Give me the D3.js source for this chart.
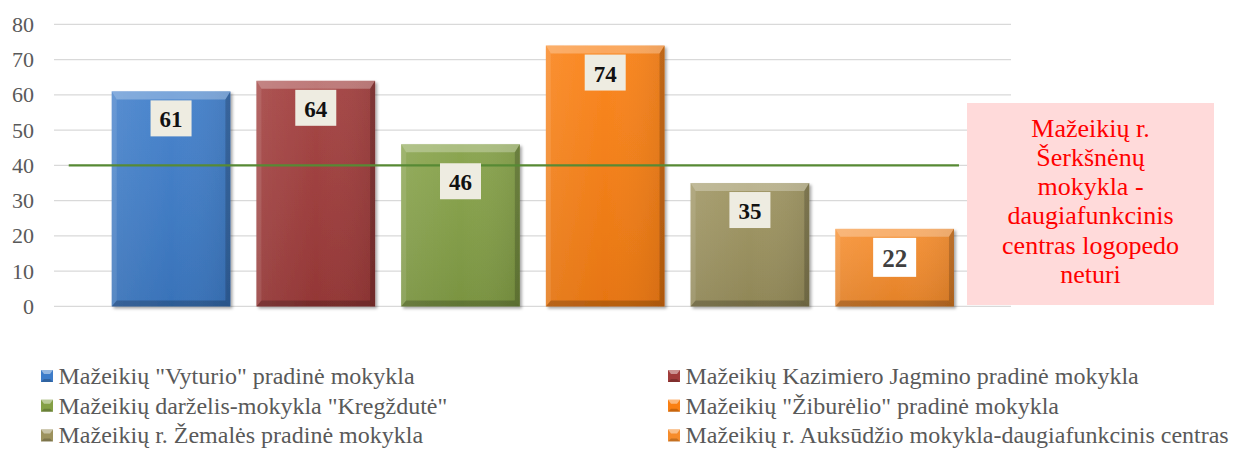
<!DOCTYPE html>
<html>
<head>
<meta charset="utf-8">
<script src="https://cdn.jsdelivr.net/npm/d3@7"></script>
</head>
<body style="margin:0;background:#fff">
<div id="chart"></div>
<script>
// data
const schools = [
  'Mažeikių "Vyturio" pradinė mokykla',
  "Mažeikių Kazimiero Jagmino pradinė mokykla",
  'Mažeikių darželis-mokykla "Kregždutė"',
  'Mažeikių "Žiburėlio" pradinė mokykla',
  "Mažeikių r. Žemalės pradinė mokykla",
  "Mažeikių r. Auksūdžio mokykla-daugiafunkcinis centras"
];
const values = [61, 64, 46, 74, 35, 22];
const refValue = 40;
const yTicks = [0, 10, 20, 30, 40, 50, 60, 70, 80];
const noteLines = ["Mažeikių r.", "Šerkšnėnų", "mokykla -", "daugiafunkcinis", "centras logopedo", "neturi"];

// styles
const colors = ["#3d7cc9", "#a03b3a", "#84a046", "#fa7f12", "#9c925e", "#f68c2b"];
const labelFill = ["#eeece1", "#eeece1", "#eeece1", "#eeece1", "#eeece1", "#ffffff"];
const labelText = ["#111", "#111", "#111", "#111", "#111", "#404040"];
const labelNudge = [0, 0, 10, 0, 0, 0];
const serif = '"Liberation Serif"';

const W = 1237, H = 454;
const svg = d3.select("#chart").append("svg")
  .attr("width", W).attr("height", H)
  .style("display", "block");

const defs = svg.append("defs");
defs.append("filter").attr("id", "shadow")
  .attr("x", "-10%").attr("y", "-10%").attr("width", "130%").attr("height", "130%")
  .append("feDropShadow")
  .attr("dx", 2).attr("dy", 2).attr("stdDeviation", 1.6)
  .attr("flood-color", "#000").attr("flood-opacity", 0.35);

// horizontal shading across each bar
const hg = defs.append("linearGradient").attr("id", "hshade")
  .attr("x1", 0).attr("x2", 1).attr("y1", 0).attr("y2", 0);
hg.append("stop").attr("offset", "0%").attr("stop-color", "#fff").attr("stop-opacity", 0.08);
hg.append("stop").attr("offset", "50%").attr("stop-color", "#fff").attr("stop-opacity", 0);
hg.append("stop").attr("offset", "100%").attr("stop-color", "#000").attr("stop-opacity", 0.08);
const vg = defs.append("linearGradient").attr("id", "vshade")
  .attr("x1", 0).attr("x2", 0).attr("y1", 0).attr("y2", 1);
vg.append("stop").attr("offset", "0%").attr("stop-color", "#fff").attr("stop-opacity", 0.06);
vg.append("stop").attr("offset", "100%").attr("stop-color", "#000").attr("stop-opacity", 0.08);

const y = d3.scaleLinear().domain([0, 80]).range([306.4, 24.4]);
const x = d3.scaleBand().domain(d3.range(values.length))
  .range([98.7, 967]).paddingInner(0.18).paddingOuter(0.09);

const gridLeft = 54, gridRight = 1011;

// gridlines
svg.append("g").selectAll("line").data(yTicks).join("line")
  .attr("x1", gridLeft).attr("x2", gridRight)
  .attr("y1", d => y(d)).attr("y2", d => y(d))
  .attr("stroke", "#d9d9d9").attr("stroke-width", 1.2);

// y axis labels
const yAxis = svg.append("g")
  .attr("transform", `translate(${gridLeft},0)`)
  .call(d3.axisLeft(y).tickValues(yTicks).tickSize(0).tickPadding(20));
yAxis.select(".domain").remove();
yAxis.selectAll("text")
  .style("font-family", serif).style("font-size", "22px")
  .attr("fill", "#595959");

// bars with bevel
const bw = x.bandwidth();
const bars = svg.append("g").selectAll("g").data(values).join("g")
  .attr("filter", "url(#shadow)");

bars.each(function (d, i) {
  const g = d3.select(this);
  const x0 = x(i), x1 = x0 + bw, y0 = y(d), y1 = y(0);
  const bt = 8, bs = 5, bb = 6;
  g.append("rect").attr("x", x0).attr("y", y0).attr("width", bw).attr("height", y1 - y0)
    .attr("fill", colors[i]);
  g.append("rect").attr("x", x0).attr("y", y0).attr("width", bw).attr("height", y1 - y0)
    .attr("fill", "url(#hshade)");
  g.append("rect").attr("x", x0).attr("y", y0).attr("width", bw).attr("height", y1 - y0)
    .attr("fill", "url(#vshade)");
  const poly = (pts, fill, op) => g.append("polygon")
    .attr("points", pts.map(p => p.join(",")).join(" "))
    .attr("fill", fill).attr("fill-opacity", op);
  poly([[x0, y0], [x1, y0], [x1 - bs, y0 + bt], [x0 + bs, y0 + bt]], "#fff", 0.28);
  poly([[x0, y0], [x0 + bs, y0 + bt], [x0 + bs, y1 - bb], [x0, y1]], "#fff", 0.1);
  poly([[x1, y0], [x1, y1], [x1 - bs, y1 - bb], [x1 - bs, y0 + bt]], "#000", 0.18);
  poly([[x0, y1], [x0 + bs, y1 - bb], [x1 - bs, y1 - bb], [x1, y1]], "#000", 0.2);
});

// reference line
svg.append("line")
  .attr("x1", x(0) - 43).attr("x2", x(values.length - 1) + bw + 5)
  .attr("y1", y(refValue)).attr("y2", y(refValue))
  .attr("stroke", "#578a34").attr("stroke-width", 2.2);

// value labels
const lbl = svg.append("g").selectAll("g").data(values).join("g")
  .attr("transform", (d, i) => `translate(${x(i) + bw / 2},${y(d) + 9 + labelNudge[i]})`);
lbl.append("rect")
  .attr("x", (d, i) => i === 5 ? -21.5 : -20.5).attr("y", 0)
  .attr("width", (d, i) => i === 5 ? 43 : 41)
  .attr("height", (d, i) => i === 5 ? 39 : 36)
  .attr("fill", (d, i) => labelFill[i]);
lbl.append("text")
  .attr("text-anchor", "middle")
  .attr("y", (d, i) => i === 5 ? 29 : 27)
  .style("font-family", serif)
  .style("font-size", (d, i) => i === 5 ? "25px" : "23px")
  .style("font-weight", "bold")
  .attr("fill", (d, i) => labelText[i])
  .text(d => d);

// note box for school without logopedist
const note = svg.append("g");
note.append("rect").attr("x", 967).attr("y", 103).attr("width", 247).attr("height", 202)
  .attr("fill", "#ffdada");
note.selectAll("text").data(noteLines).join("text")
  .attr("x", 1090.5).attr("y", (d, i) => 136.7 + i * 29.2)
  .attr("text-anchor", "middle")
  .style("font-family", serif).style("font-size", "26px")
  .attr("fill", "#ff0000")
  .text(d => d);

// legend
const legend = svg.append("g").selectAll("g").data(schools).join("g")
  .attr("transform", (d, i) => `translate(${i % 2 === 0 ? 41 : 668},${370 + Math.floor(i / 2) * 29.7})`);
legend.append("rect").attr("width", 12).attr("height", 12)
  .attr("fill", (d, i) => colors[i]);
legend.append("polygon").attr("points", "0,0 12,0 9,4 3,4")
  .attr("fill", "#fff").attr("fill-opacity", 0.45);
legend.append("polygon").attr("points", "0,12 12,12 9,9 3,9")
  .attr("fill", "#000").attr("fill-opacity", 0.2);
legend.append("text")
  .attr("x", 17.5).attr("y", 14)
  .style("font-family", serif).style("font-size", "24px")
  .attr("fill", "#595959")
  .text(d => d);
</script>
</body>
</html>
